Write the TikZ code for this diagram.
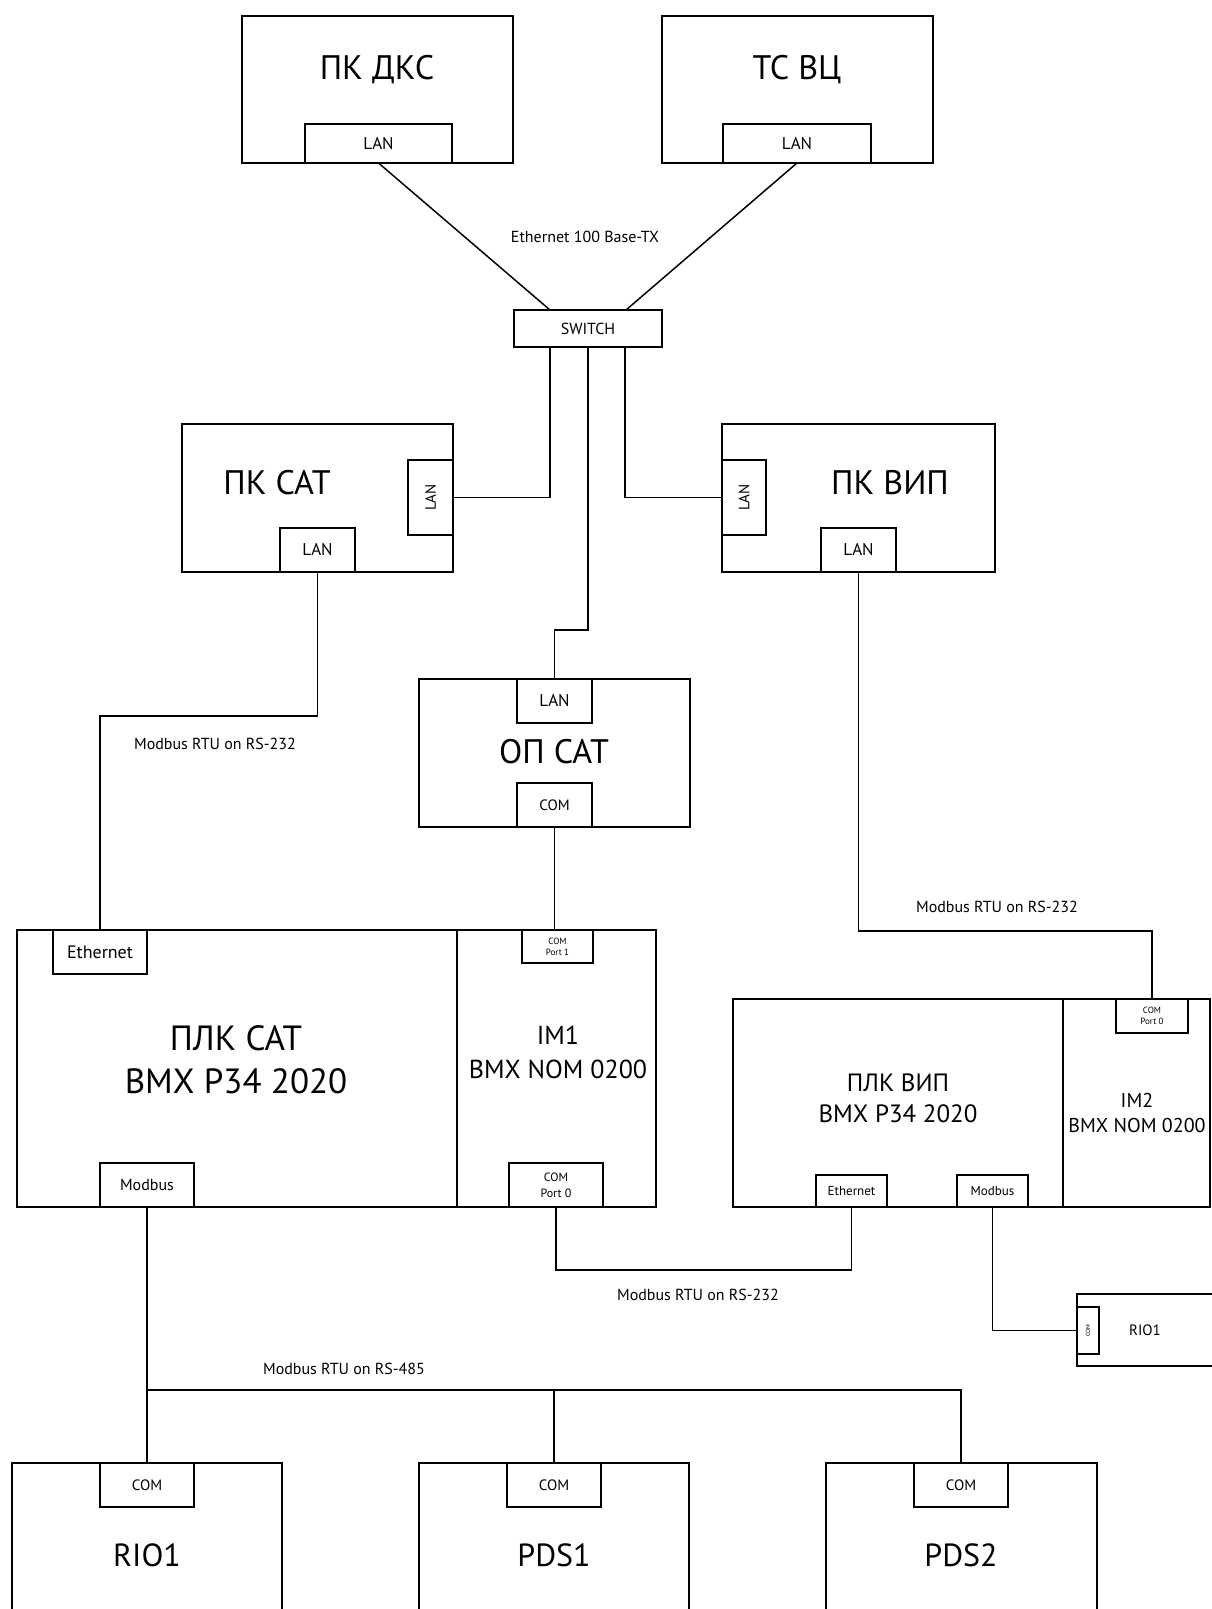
\documentclass[tikz,border=0pt]{standalone}
\usepackage{fontspec}
\setmainfont{PT Sans}
\usepackage{tikz}
\tikzset{
    % рамка устройства
    unitbox/.style={
        draw,
        line width=1.5pt,
        inner sep=0pt,
        outer sep=0pt,
        anchor=north west
    },
    % порт внутри рамки
    portbox/.style={
        draw,
        line width=1.5pt,
        inner sep=0pt,
        outer sep=0pt,
        anchor=north west,
        align=center,
        font=\fontsize{17}{20}\selectfont
    },
    wire/.style={line width=1.5pt},
    bigtitle/.style={align=center, font=\fontsize{34}{40}\selectfont},
    cablelabel/.style={font=\fontsize{16}{19}\selectfont}
}

\begin{document}
\begin{tikzpicture}[x=1pt,y=-1pt]
			\useasboundingbox (0,0) rectangle (1212,1609);
			\clip (0,0) rectangle (1212,1609);
			
			% ===================== верхний уровень =====================
			\node[unitbox, minimum width=271pt, minimum height=147pt] (pcdks) at (242,16) {};
			\node[unitbox, minimum width=271pt, minimum height=147pt] (tsvc) at (662,16) {};
			\node[bigtitle] (pcdkstext) at (377,70) {ПК ДКС};
			\node[bigtitle] (tsvctext) at (797,70) {ТС ВЦ};
			\node[portbox, minimum width=147pt, minimum height=39pt] (dkslan) at (305,124) {LAN};
			\node[portbox, minimum width=148pt, minimum height=39pt] (vclan) at (723,124) {LAN};
			
			\node[portbox, minimum width=148pt, minimum height=37pt, font=\fontsize{16}{19}\selectfont] (switch) at (514,310) {SWITCH};
			\node[cablelabel] (ethlabel) at (585,237) {Ethernet 100 Base-TX};
			
			% ===================== ПК САТ / ПК ВИП =====================
			\node[unitbox, minimum width=271pt, minimum height=148pt] (pcsat) at (182,424) {};
			\node[bigtitle] (pcsattext) at (277,483) {ПК САТ};
			\node[portbox, minimum width=45pt, minimum height=75pt] (satlanr) at (408,460) {};
			\node[rotate=90, font=\fontsize{15}{18}\selectfont] (satlanrtext) at (satlanr.center) {LAN};
			\node[portbox, minimum width=75pt, minimum height=44pt] (satlanb) at (280,528) {LAN};
			
			\node[unitbox, minimum width=273pt, minimum height=148pt] (pcvip) at (722,424) {};
			\node[bigtitle] (pcviptext) at (890,483) {ПК ВИП};
			\node[portbox, minimum width=44pt, minimum height=75pt] (viplanl) at (722,460) {};
			\node[rotate=90, font=\fontsize{15}{18}\selectfont] (viplanltext) at (viplanl.center) {LAN};
			\node[portbox, minimum width=75pt, minimum height=44pt] (viplanb) at (821,528) {LAN};
			
			% ===================== ОП САТ =====================
			\node[unitbox, minimum width=271pt, minimum height=148pt] (opsat) at (419,679) {};
			\node[bigtitle] (opsattext) at (554,752) {ОП САТ};
			\node[portbox, minimum width=75pt, minimum height=44pt] (oplan) at (517,679) {LAN};
			\node[portbox, minimum width=75pt, minimum height=44pt, font=\fontsize{15}{18}\selectfont] (opcom) at (517,783) {COM};
			
			% ===================== ПЛК САТ + IM1 =====================
			\node[unitbox, minimum width=440pt, minimum height=277pt] (plcsat) at (17,930) {};
			\node[unitbox, minimum width=199pt, minimum height=277pt] (im1) at (457,930) {};
			\node[bigtitle, font=\fontsize{35}{43}\selectfont] (plcsattext) at (236,1060) {ПЛК САТ\\BMX P34 2020};
			\node[bigtitle, font=\fontsize{26}{34}\selectfont] (im1text) at (558,1052) {IM1\\BMX NOM 0200};
			\node[portbox, minimum width=94pt, minimum height=44pt, font=\fontsize{18}{20}\selectfont] (sateth) at (53,930) {Ethernet};
			\node[portbox, minimum width=94pt, minimum height=44pt, font=\fontsize{16}{19}\selectfont] (satmb) at (100,1163) {Modbus};
			\node[portbox, minimum width=71pt, minimum height=33pt, font=\fontsize{9}{11}\selectfont] (im1com1) at (522,930) {COM\\Port 1};
			\node[portbox, minimum width=94pt, minimum height=44pt, font=\fontsize{12}{16}\selectfont] (im1com0) at (509,1163) {COM\\Port 0};
			
			% ===================== ПЛК ВИП + IM2 =====================
			\node[unitbox, minimum width=330pt, minimum height=208pt] (plcvip) at (733,999) {};
			\node[unitbox, minimum width=147pt, minimum height=208pt] (im2) at (1063,999) {};
			\node[bigtitle, font=\fontsize{25}{31}\selectfont] (plcviptext) at (898,1098) {ПЛК ВИП\\BMX P34 2020};
			\node[bigtitle, font=\fontsize{20}{25}\selectfont] (im2text) at (1137,1113) {IM2\\BMX NOM 0200};
			\node[portbox, minimum width=72pt, minimum height=34pt, font=\fontsize{9}{11}\selectfont] (im2com0) at (1116,999) {COM\\Port 0};
			\node[portbox, minimum width=71pt, minimum height=32pt, font=\fontsize{13}{16}\selectfont] (vipeth) at (816,1175) {Ethernet};
			\node[portbox, minimum width=71pt, minimum height=32pt, font=\fontsize{13}{16}\selectfont] (vipmb) at (957,1175) {Modbus};
			
			% RIO1 справа
			\node[unitbox, minimum width=200pt, minimum height=72pt] (riobox) at (1077,1294) {};
			\node[font=\fontsize{15}{18}\selectfont] (rioboxtext) at (1145,1330) {RIO1};
			\node[portbox, minimum width=22pt, minimum height=47pt] (riocomr) at (1077,1307) {};
			\node[rotate=90, font=\fontsize{6}{7}\selectfont] (riocomrtext) at (riocomr.center) {COM};
			
			% ===================== нижний уровень =====================
			\node[unitbox, minimum width=270pt, minimum height=250pt] (rio1) at (12,1463) {};
			\node[unitbox, minimum width=270pt, minimum height=250pt] (pds1) at (419,1463) {};
			\node[unitbox, minimum width=271pt, minimum height=250pt] (pds2) at (826,1463) {};
			\node[bigtitle, font=\fontsize{32}{38}\selectfont] (rio1text) at (147,1555) {RIO1};
			\node[bigtitle, font=\fontsize{32}{38}\selectfont] (pds1text) at (554,1555) {PDS1};
			\node[bigtitle, font=\fontsize{32}{38}\selectfont] (pds2text) at (961,1555) {PDS2};
			\node[portbox, minimum width=94pt, minimum height=44pt, font=\fontsize{15}{18}\selectfont] (riocom1) at (100,1463) {COM};
			\node[portbox, minimum width=94pt, minimum height=44pt, font=\fontsize{15}{18}\selectfont] (pds1com) at (507,1463) {COM};
			\node[portbox, minimum width=94pt, minimum height=44pt, font=\fontsize{15}{18}\selectfont] (pds2com) at (914,1463) {COM};
			
			% ===================== линии связи =====================
			\draw[wire] (dkslan.south) -- ([xshift=-38pt]switch.north);
			\draw[wire] (vclan.south) -- ([xshift=38pt]switch.north);
			\draw[wire] ([xshift=-38pt]switch.south) |- (satlanr.east);
			\draw[wire] ([xshift=37pt]switch.south) |- (viplanl.west);
			\draw[wire] (switch.south) |- ([yshift=49pt]oplan.north) -- (oplan.north);
			
			\draw[wire] (satlanb.south) |- ([yshift=214pt]sateth.north) -- (sateth.north);
			\draw[wire] (opcom.south) -- (opcom.south |- im1com1.north);
			\draw[wire] (viplanb.south) |- ([yshift=68pt]im2com0.north) -- (im2com0.north);
			\draw[wire] (im1com0.south) |- ([yshift=-63pt]vipeth.south) -- (vipeth.south);
			\draw[wire] (vipmb.south) |- (riocomr.west);
			
			\coordinate (bus) at (147,1390);
			\draw[wire] (satmb.south) -- (riocom1.north);
			\draw[wire] (bus) -| (pds2com.north);
			\draw[wire] (bus -| pds1com.north) -- (pds1com.north);
			
			% подписи
			\node[cablelabel] (rs232a) at (215,744) {Modbus RTU on RS-232};
			\node[cablelabel] (rs232b) at (997,907) {Modbus RTU on RS-232};
			\node[cablelabel] (rs232c) at (698,1295) {Modbus RTU on RS-232};
			\node[cablelabel] (rs485) at (344,1369) {Modbus RTU on RS-485};
\end{tikzpicture}
\end{document}
